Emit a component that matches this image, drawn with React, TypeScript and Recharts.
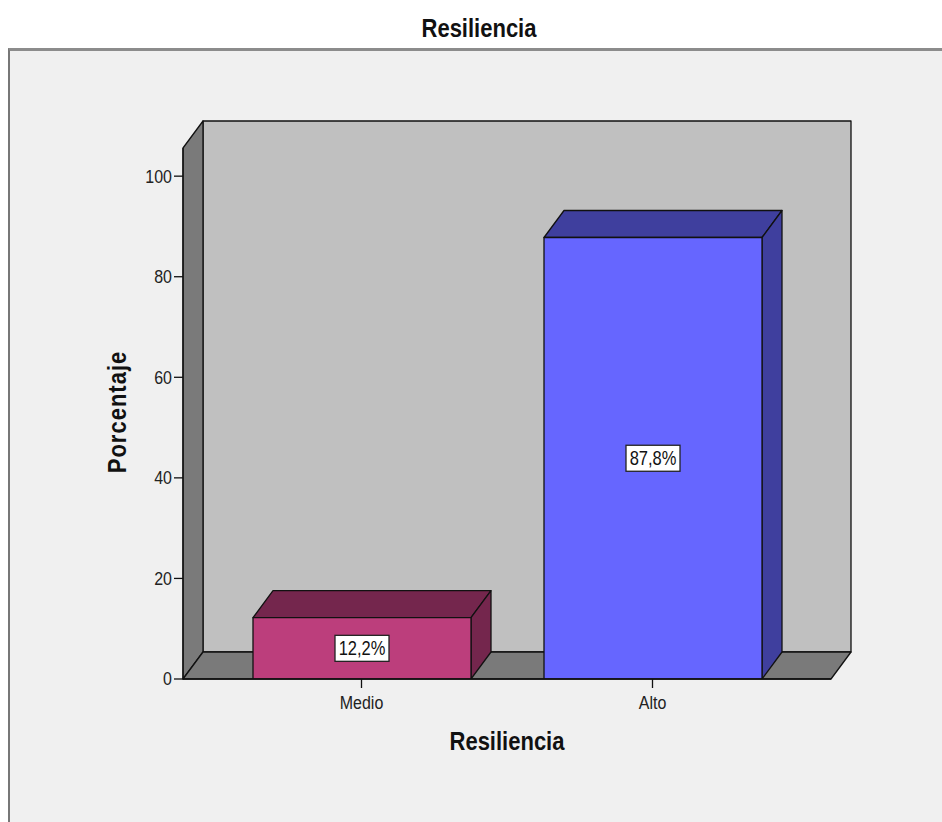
import React from "react"
import { BarChart, Bar, XAxis, YAxis, ReferenceArea, LabelList, Cell } from "recharts"

const categories = ["Medio", "Alto"]
const percentages = [12.2, 87.8]
const yTicks = [0, 20, 40, 60, 80, 100]
const yMax = 105.6

const frontColors = ["#bc3e7c", "#6666ff"]
const sideColors = ["#74264d", "#3f3f9e"]

const data = categories.map((name, i) => ({ name, value: percentages[i] }))

// 3D depth of the SPSS-style projection
const DX = 20
const DY = 27
const FONT = "'Liberation Sans', Arial, sans-serif"
const STRETCH = 1.18 // reference text is a bit taller than wide

const fmt = (v: number) => v.toFixed(1).replace(".", ",") + "%"

function Walls(props: any) {
  const { x, y, width: w, height: h } = props
  const edge = { stroke: "#111", strokeWidth: 1.3, strokeLinejoin: "round" as const }
  return (
    <g>
      <rect x={x + DX} y={y - DY} width={w} height={h} fill="#c0c0c0" {...edge} />
      <path
        d={`M${x},${y} L${x + DX},${y - DY} L${x + DX},${y + h - DY} L${x},${y + h} Z`}
        fill="#7a7a7a"
        {...edge}
      />
      <path
        d={`M${x},${y + h} L${x + DX},${y + h - DY} L${x + w + DX},${y + h - DY} L${x + w},${y + h} Z`}
        fill="#7a7a7a"
        {...edge}
      />
    </g>
  )
}

function Box3D(props: any) {
  const { x, y, width, height, index } = props
  const front = frontColors[index]
  const side = sideColors[index]
  const top = `M${x},${y} L${x + DX},${y - DY} L${x + width + DX},${y - DY} L${x + width},${y} Z`
  const right = `M${x + width},${y} L${x + width + DX},${y - DY} L${x + width + DX},${y + height - DY} L${x + width},${y + height} Z`
  return (
    <g stroke="#111" strokeWidth={1.3} strokeLinejoin="round">
      <path d={top} fill={side} />
      <path d={right} fill={side} />
      <rect x={x} y={y} width={width} height={height} fill={front} />
    </g>
  )
}

function ValueTag(props: any) {
  const vb = props.viewBox && props.viewBox.width !== undefined ? props.viewBox : props
  const cx = vb.x + vb.width / 2
  const cy = vb.y + vb.height / 2
  return (
    <g>
      <rect x={cx - 27} y={cy - 13} width={54} height={26} fill="#fff" stroke="#222" strokeWidth={1.3} />
      <text
        transform={`translate(${cx},${cy}) scale(1,${STRETCH})`}
        dy="0.36em"
        textAnchor="middle"
        fontSize={16.5}
        fontFamily={FONT}
        fill="#111"
      >
        {fmt(Number(props.value))}
      </text>
    </g>
  )
}

function TallTick(props: any) {
  const { x, y, payload, textAnchor } = props
  return (
    <text
      transform={`translate(${x},${y}) scale(1,${STRETCH})`}
      dy={textAnchor === "middle" ? "0.71em" : "0.34em"}
      textAnchor={textAnchor}
      fontSize={16}
      fontFamily={FONT}
      fill="#222"
    >
      {payload.value}
    </text>
  )
}

const headText = {
  position: "absolute" as const,
  textAlign: "center" as const,
  fontSize: 22,
  lineHeight: "22px",
  fontWeight: 700,
  color: "#111",
}

export default function App() {
  return (
    <div style={{ position: "absolute", left: 0, top: 0, width: 942, height: 822, fontFamily: FONT }}>
      <div style={{ ...headText, left: 20, top: 18, width: 918, transform: `scaleY(${STRETCH})` }}>Resiliencia</div>
      <div
        style={{
          position: "absolute",
          left: 8,
          top: 48,
          width: 934,
          height: 774,
          background: "#f0f0f0",
          borderLeft: "2px solid #777",
          borderTop: "3px solid #8c8c8c",
          boxSizing: "border-box",
        }}
      />
      <div style={{ position: "absolute", left: 0, top: 0 }}>
        <BarChart
          width={942}
          height={822}
          data={data}
          margin={{ top: 148, right: 111, bottom: 113, left: 123 }}
        >
          <XAxis xAxisId="frame" type="number" domain={[0, 1]} hide />
          <XAxis
            dataKey="name"
            height={30}
            padding={{ left: 33, right: 33 }}
            tickSize={9}
            tickMargin={8}
            axisLine={{ stroke: "#111", strokeWidth: 1.3 }}
            tickLine={{ stroke: "#111", strokeWidth: 1.3 }}
            tick={<TallTick />}
          />
          <YAxis
            width={60}
            domain={[0, yMax]}
            ticks={yTicks}
            interval={0}
            allowDataOverflow
            tickSize={9}
            tickMargin={2}
            axisLine={{ stroke: "#111", strokeWidth: 1.3 }}
            tickLine={{ stroke: "#111", strokeWidth: 1.3 }}
            tick={<TallTick />}
          />
          <ReferenceArea xAxisId="frame" x1={0} x2={1} y1={0} y2={yMax} shape={<Walls />} />
          <Bar dataKey="value" barSize={218} shape={<Box3D />} isAnimationActive={false}>
            {data.map((d, i) => (
              <Cell key={d.name} fill={frontColors[i]} />
            ))}
            <LabelList dataKey="value" content={<ValueTag />} />
          </Bar>
        </BarChart>
      </div>
      <div
        style={{
          ...headText,
          left: 18,
          top: 400,
          width: 200,
          height: 24,
          lineHeight: "24px",
          letterSpacing: 1,
          transform: `rotate(-90deg) scaleY(${STRETCH})`,
        }}
      >
        Porcentaje
      </div>
      <div style={{ ...headText, left: 407, top: 731, width: 200, transform: `scaleY(${STRETCH})` }}>Resiliencia</div>
    </div>
  )
}
